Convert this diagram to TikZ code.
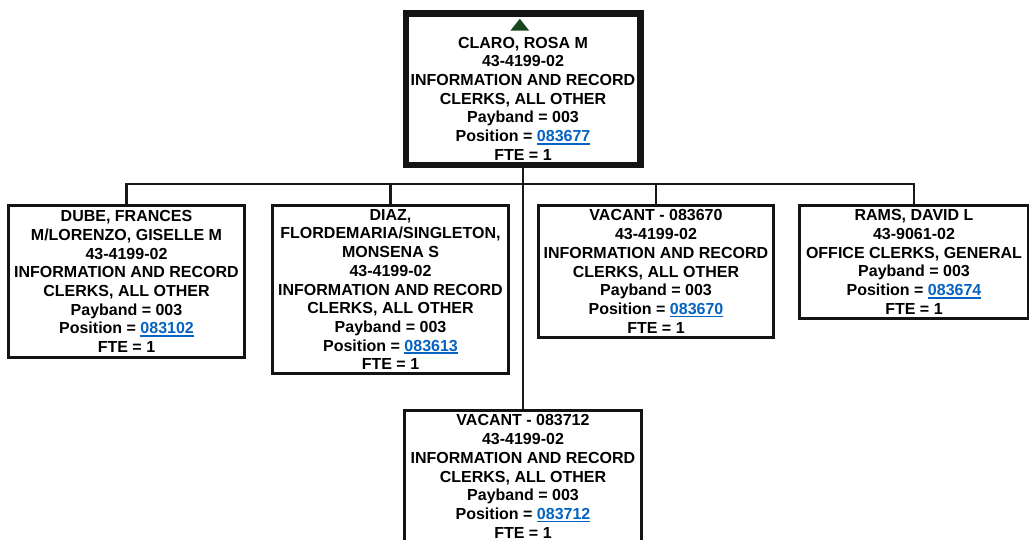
\documentclass[tikz,border=0pt]{standalone}
\usepackage{fontspec}
\setmainfont{Liberation Sans}
\usepackage{xcolor}
\usetikzlibrary{positioning,calc}

\definecolor{linkblue}{RGB}{5,99,193}
\definecolor{markgreen}{RGB}{24,70,30}
\newcommand{\poslink}[1]{\textcolor{linkblue}{\setbox0\hbox{#1}\rlap{\rule[-3pt]{\wd0}{1.8pt}}\box0}}

\begin{document}
\begin{tikzpicture}[
  x=1pt,y=-1pt,
  font=\fontsize{16}{18.7}\selectfont\bfseries,
  posbox/.style={draw=black!92,line width=3.2pt,anchor=north,align=center,inner sep=0pt},
  headbox/.style={posbox,line width=6.5pt},
  conn/.style={draw=black!90,line width=2.6pt},
]
\useasboundingbox (0,0) rectangle (1029,539);

\node[headbox,minimum width=234.5pt,minimum height=151.5pt] (top) at (523,10)
  {\rule{0pt}{11.5pt}\\CLARO, ROSA M\\43-4199-02\\INFORMATION AND RECORD\\CLERKS, ALL OTHER\\
   Payband = 003\\Position = \poslink{083677}\\FTE = 1};
\fill[markgreen] ($(top.north)+(-12.5,20.5)$) -- ++(18.6,0) -- ++(-9.3,-11.7) -- cycle;

\node[posbox,minimum width=235.8pt,minimum height=151.8pt] (b1) at (126.5,204)
  {DUBE, FRANCES\\M/LORENZO, GISELLE M\\43-4199-02\\INFORMATION AND RECORD\\CLERKS, ALL OTHER\\
   Payband = 003\\Position = \poslink{083102}\\FTE = 1};
\node[posbox,minimum width=235.8pt,minimum height=167.8pt] (b2) at (390.5,204)
  {DIAZ,\\FLORDEMARIA/SINGLETON,\\MONSENA S\\43-4199-02\\INFORMATION AND RECORD\\CLERKS, ALL OTHER\\
   Payband = 003\\Position = \poslink{083613}\\FTE = 1};
\node[posbox,minimum width=234.8pt,minimum height=131.8pt] (b3) at (656,204)
  {VACANT - 083670\\43-4199-02\\INFORMATION AND RECORD\\CLERKS, ALL OTHER\\
   Payband = 003\\Position = \poslink{083670}\\FTE = 1};
\node[posbox,minimum width=228.8pt,minimum height=112.8pt] (b4) at (914,204)
  {RAMS, DAVID L\\43-9061-02\\OFFICE CLERKS, GENERAL\\
   Payband = 003\\Position = \poslink{083674}\\FTE = 1};
\node[posbox,minimum width=236.8pt,minimum height=131.8pt] (b5) at (523,409)
  {VACANT - 083712\\43-4199-02\\INFORMATION AND RECORD\\CLERKS, ALL OTHER\\
   Payband = 003\\Position = \poslink{083712}\\FTE = 1};

\coordinate (bus) at (523,184);
\foreach \c in {b1,b2,b3,b4}
  \draw[conn] (top.south) -- (bus) -| (\c.north);
\draw[conn] (top.south) -- (b5.north);
\end{tikzpicture}
\end{document}
